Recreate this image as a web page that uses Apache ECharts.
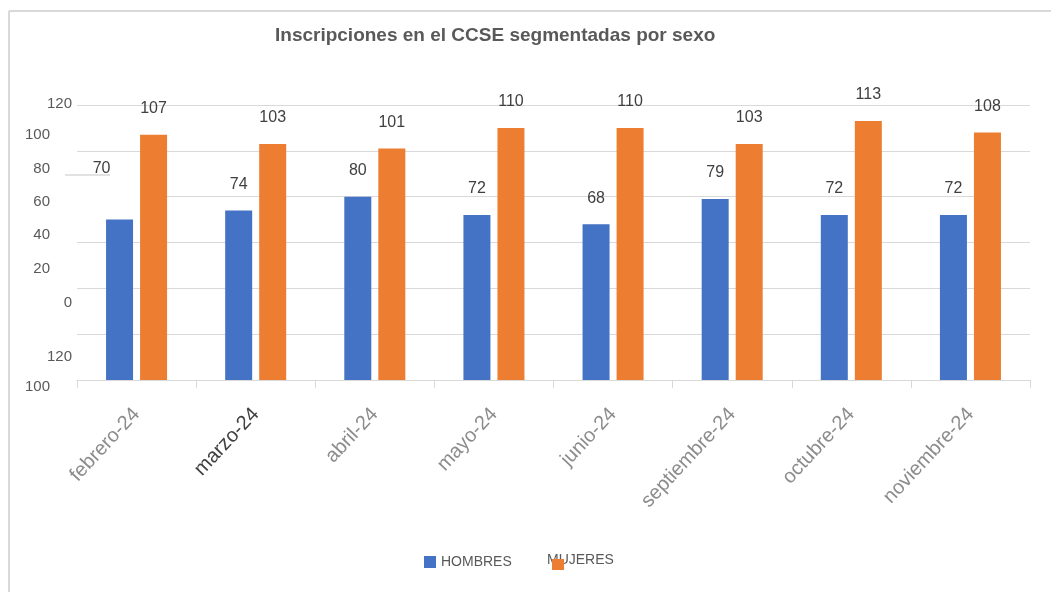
<!DOCTYPE html>
<html>
<head>
<meta charset="utf-8">
<script src="https://cdn.jsdelivr.net/npm/echarts@6/dist/echarts.min.js"></script>
<style>html,body{margin:0;padding:0;background:#fff;}#c{width:1051px;height:592px;}</style>
</head>
<body>
<div id="c"></div>
<script>
var categories = ['febrero-24','marzo-24','abril-24','mayo-24','junio-24','septiembre-24','octubre-24','noviembre-24'];
var hombres = [70,74,80,72,68,79,72,72];
var mujeres = [107,103,101,110,110,103,113,108];
var yTickLabels = ['120','100','80','60','40','20','0','120','100'];
var titleText = 'Inscripciones en el CCSE segmentadas por sexo';

var FONT = '"Liberation Sans", Arial, sans-serif';
var chart = echarts.init(document.getElementById('c'));

// layout for the (misplaced) left tick labels: [rightEdgeX, centerY]
var yLabelPos = [[72,104],[50,135],[50,169],[50,202],[50,235],[50,269],[72,303],[72,357],[50,387]];
var graphics = [
  {type:'line', shape:{x1:9,y1:11,x2:1051,y2:11}, style:{stroke:'#d9d9d9',lineWidth:2}, z:0},
  {type:'line', shape:{x1:9,y1:11,x2:9,y2:592}, style:{stroke:'#d9d9d9',lineWidth:2}, z:0},
  // stray gridline fragment and gaps
  {type:'line', shape:{x1:77,y1:197,x2:167,y2:197}, style:{stroke:'#ffffff',lineWidth:3}, z:1},
  {type:'line', shape:{x1:1000,y1:197,x2:1031,y2:197}, style:{stroke:'#ffffff',lineWidth:3}, z:1},
  {type:'line', shape:{x1:65,y1:175,x2:110,y2:175}, style:{stroke:'#d9d9d9',lineWidth:1.5}, z:1}
];
yTickLabels.forEach(function(t,i){
  graphics.push({type:'text', x:yLabelPos[i][0], y:yLabelPos[i][1],
    style:{text:t, fill:'#595959', font:'15px '+FONT, textAlign:'right', textVerticalAlign:'middle'}, z:5});
});

var hombresData = hombres.map(function(v,i){
  var d = {value:v};
  if (i === 0) d.label = {offset:[-18,-25]};
  return d;
});
var catData = categories.map(function(c){
  return c === 'marzo-24' ? {value:c, textStyle:{color:'#404040'}} : c;
});

var labelCommon = {show:true, position:'top', distance:18, color:'#404040', fontSize:16, fontFamily:FONT};

chart.setOption({
  animation:false,
  backgroundColor:'#ffffff',
  title:{text:titleText, left:270, top:21,
    textStyle:{fontFamily:FONT, fontWeight:'bold', fontSize:19, color:'#595959'}},
  legend:[
    {data:['HOMBRES'], left:424, top:555, padding:0, icon:'rect', itemWidth:12, itemHeight:12, selectedMode:false,
      textStyle:{fontFamily:FONT, fontSize:14, color:'#595959'}},
    {data:['MUJERES'], left:530, top:553, padding:0, icon:'rect', itemWidth:12, itemHeight:12, selectedMode:false,
      itemStyle:{opacity:0}, textStyle:{fontFamily:FONT, fontSize:14, color:'#595959'}, z:3},
    {data:['MUJERES'], left:552, top:559, padding:0, icon:'rect', itemWidth:12, itemHeight:11, selectedMode:false,
      formatter:function(){return '';}, textStyle:{color:'rgba(0,0,0,0)'}, z:4}
  ],
  grid:{left:77, right:21, top:105, bottom:212},
  xAxis:{type:'category', data:catData,
    axisLine:{lineStyle:{color:'#d9d9d9', width:1}},
    axisTick:{show:true, length:8, lineStyle:{color:'#d9d9d9'}},
    axisLabel:{rotate:47, color:'#8c8c8c', fontSize:20, fontFamily:FONT, margin:31, interval:0}
  },
  yAxis:{type:'value', min:0, max:120, interval:20,
    axisLabel:{show:false}, axisLine:{show:false}, axisTick:{show:false},
    splitLine:{lineStyle:{color:'#d9d9d9', width:1}}
  },
  series:[
    {name:'HOMBRES', type:'bar', data:hombresData, barWidth:27, barGap:'26%',
      itemStyle:{color:'#4472c4'}, label:labelCommon},
    {name:'MUJERES', type:'bar', data:mujeres, barWidth:27,
      itemStyle:{color:'#ed7d31'}, label:labelCommon}
  ],
  graphic:graphics
});
</script>
</body>
</html>
